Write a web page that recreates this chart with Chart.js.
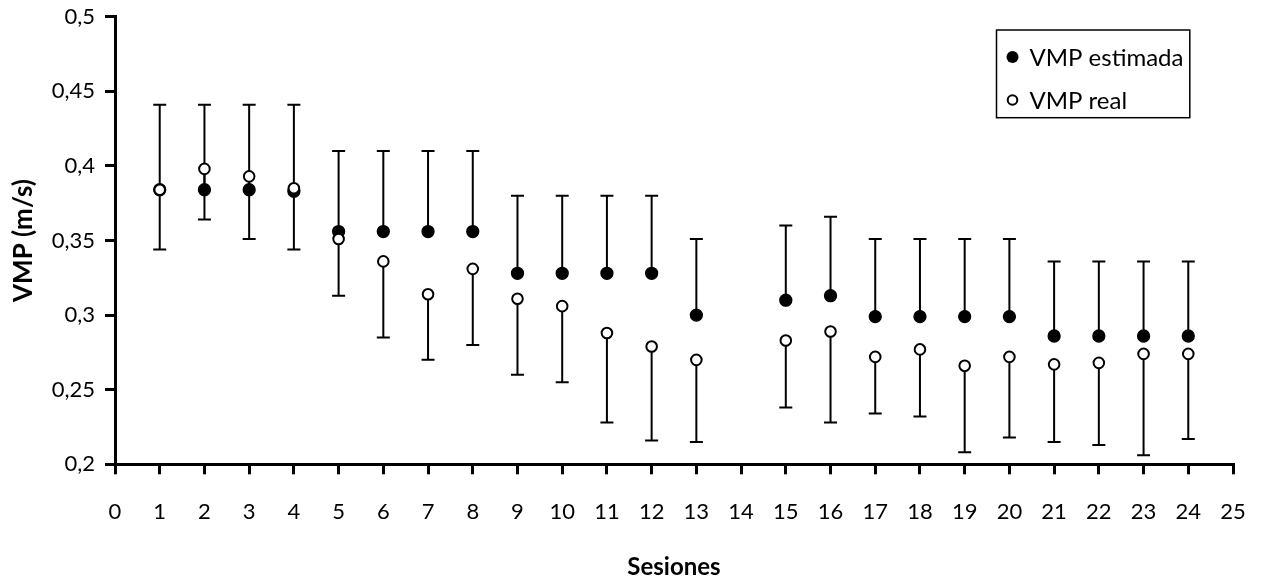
<!DOCTYPE html>
<html>
<head>
<meta charset="utf-8">
<script src="https://cdn.jsdelivr.net/npm/chart.js@4.4.1/dist/chart.umd.min.js"></script>
<style>
  html, body { margin: 0; padding: 0; background: #ffffff; }
  #wrap { width: 1263px; height: 580px; }
</style>
</head>
<body>
<div id="wrap"><canvas id="c" width="1263" height="580"></canvas></div>
<script>
// Sessions (14 missing)
const sessions = [1,2,3,4,5,6,7,8,9,10,11,12,13,15,16,17,18,19,20,21,22,23,24];
// VMP estimada (filled) and its upper error limit
const vmpEstimada = [0.384,0.384,0.384,0.383,0.356,0.356,0.356,0.356,0.328,0.328,0.328,0.328,0.300,0.310,0.313,0.299,0.299,0.299,0.299,0.286,0.286,0.286,0.286];
const vmpEstimadaUpper = [0.441,0.441,0.441,0.441,0.410,0.410,0.410,0.410,0.380,0.380,0.380,0.380,0.351,0.360,0.366,0.351,0.351,0.351,0.351,0.336,0.336,0.336,0.336];
// VMP real (open) and its lower error limit
const vmpReal = [0.384,0.398,0.393,0.385,0.351,0.336,0.314,0.331,0.311,0.306,0.288,0.279,0.270,0.283,0.289,0.272,0.277,0.266,0.272,0.267,0.268,0.274,0.274];
const vmpRealLower = [0.344,0.364,0.351,0.344,0.313,0.285,0.270,0.280,0.260,0.255,0.228,0.216,0.215,0.238,0.228,0.234,0.232,0.208,0.218,0.215,0.213,0.206,0.217];
// Axes
const xMin = 0, xMax = 25, xStep = 1;
const yMin = 0.2, yMax = 0.5, yStep = 0.05;
const seriesLabels = ['VMP estimada', 'VMP real'];
const xTitle = 'Sesiones';
const yTitle = 'VMP (m/s)';

const FONT = 'Lato';

const errorBars = {
  id: 'errorBars',
  beforeDatasetsDraw(chart) {
    const {ctx, scales: {x, y}} = chart;
    ctx.save();
    ctx.strokeStyle = '#000';
    ctx.lineWidth = 2;
    const cap = 6.5;
    const seg = (px, y0, y1) => {
      ctx.beginPath();
      ctx.moveTo(px, y0); ctx.lineTo(px, y1);
      ctx.moveTo(px - cap, y1); ctx.lineTo(px + cap, y1);
      ctx.stroke();
    };
    sessions.forEach((s, i) => {
      const px = x.getPixelForValue(s);
      seg(px, y.getPixelForValue(vmpEstimada[i]), y.getPixelForValue(vmpEstimadaUpper[i]));
      seg(px, y.getPixelForValue(vmpReal[i]), y.getPixelForValue(vmpRealLower[i]));
    });
    ctx.restore();
  }
};

const boxLegend = {
  id: 'boxLegend',
  afterDraw(chart) {
    const {ctx, chartArea} = chart;
    const bx = chartArea.right - 236.5, by = chartArea.top + 13.3, bw = 193.3, bh = 87.7;
    ctx.save();
    ctx.strokeStyle = '#000';
    ctx.lineWidth = 1.5;
    ctx.strokeRect(bx, by, bw, bh);
    ctx.font = '24px ' + FONT;
    ctx.fillStyle = '#000';
    ctx.textBaseline = 'middle';
    ctx.textAlign = 'left';
    const rows = [by + 27, by + 70];
    // filled marker
    ctx.beginPath(); ctx.arc(bx + 16, rows[0], 6, 0, Math.PI * 2); ctx.fill();
    ctx.fillText(chart.data.datasets[0].label, bx + 33, rows[0] + 1);
    // open marker
    ctx.beginPath(); ctx.arc(bx + 16, rows[1], 4.8, 0, Math.PI * 2);
    ctx.fillStyle = '#fff'; ctx.fill();
    ctx.lineWidth = 2; ctx.stroke();
    ctx.fillStyle = '#000';
    ctx.fillText(chart.data.datasets[1].label, bx + 33, rows[1] + 1);
    ctx.restore();
  }
};

const fmt = v => {
  const n = Math.round(v * 100) / 100;
  return String(n).replace('.', ',');
};

new Chart(document.getElementById('c'), {
  type: 'scatter',
  data: {
    datasets: [
      {
        label: seriesLabels[0],
        data: sessions.map((s, i) => ({x: s, y: vmpEstimada[i]})),
        pointRadius: 6,
        pointBorderWidth: 1.3,
        pointBackgroundColor: '#000',
        pointBorderColor: '#000',
        showLine: false,
        order: 1
      },
      {
        label: seriesLabels[1],
        data: sessions.map((s, i) => ({x: s, y: vmpReal[i]})),
        pointRadius: 5.3,
        pointBorderWidth: 2,
        pointBackgroundColor: '#fff',
        pointBorderColor: '#000',
        showLine: false,
        order: 0
      }
    ]
  },
  options: {
    responsive: false,
    animation: false,
    events: [],
    layout: { padding: { top: 16.7, right: 30, left: 0, bottom: 0 } },
    plugins: {
      legend: { display: false },
      tooltip: { enabled: false }
    },
    scales: {
      x: {
        type: 'linear',
        min: xMin, max: xMax,
        afterFit(scale) {
          scale.height = 115.7;
          scale.paddingLeft = 0; scale.paddingRight = 0;
        },
        border: { display: true, color: '#000', width: 3 },
        grid: { drawOnChartArea: false, drawTicks: true, tickLength: 10, color: '#000', lineWidth: 3 },
        ticks: {
          stepSize: xStep, autoSkip: false, maxRotation: 0, color: '#000',
          padding: 24,
          font: { family: FONT, size: 22 }
        },
        title: {
          display: true, text: xTitle, color: '#000',
          font: { family: FONT, size: 24, weight: 'bold', lineHeight: 1 },
          padding: { top: 0, bottom: 1 }
        }
      },
      y: {
        type: 'linear',
        min: yMin, max: yMax,
        afterFit(scale) {
          scale.width = 115;
          scale.paddingTop = 0; scale.paddingBottom = 0;
        },
        border: { display: true, color: '#000', width: 3 },
        grid: { drawOnChartArea: false, drawTicks: true, tickLength: 10, color: '#000', lineWidth: 3 },
        ticks: {
          stepSize: yStep, color: '#000', padding: 10,
          font: { family: FONT, size: 22 },
          callback: v => fmt(v)
        },
        title: {
          display: true, text: yTitle, color: '#000',
          font: { family: FONT, size: 26, weight: 'bold' },
          padding: { top: 8, bottom: 0 }
        }
      }
    }
  },
  plugins: [errorBars, boxLegend]
});
</script>
</body>
</html>
